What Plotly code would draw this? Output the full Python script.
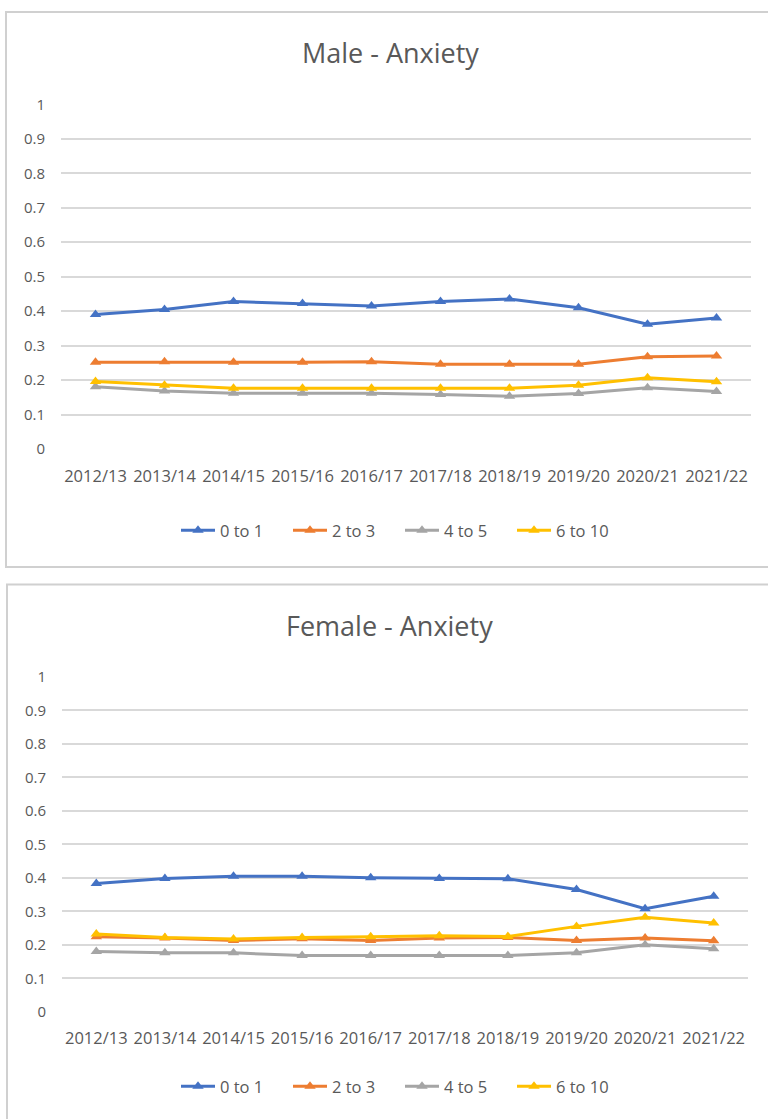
import plotly.graph_objects as go

years = ["2012/13", "2013/14", "2014/15", "2015/16", "2016/17",
         "2017/18", "2018/19", "2019/20", "2020/21", "2021/22"]
series_names = ["0 to 1", "2 to 3", "4 to 5", "6 to 10"]
colors = ["#4472C4", "#ED7D31", "#A5A5A5", "#FFC000"]

male_0_1 = [0.390, 0.405, 0.428, 0.422, 0.415, 0.428, 0.435, 0.410, 0.362, 0.380]
male_2_3 = [0.252, 0.253, 0.252, 0.252, 0.253, 0.246, 0.246, 0.246, 0.268, 0.270]
male_4_5 = [0.181, 0.168, 0.162, 0.162, 0.162, 0.158, 0.153, 0.161, 0.178, 0.167]
male_6_10 = [0.196, 0.185, 0.176, 0.176, 0.176, 0.176, 0.176, 0.185, 0.207, 0.195]

female_0_1 = [0.383, 0.398, 0.405, 0.405, 0.400, 0.398, 0.397, 0.365, 0.308, 0.345]
female_2_3 = [0.224, 0.220, 0.213, 0.218, 0.213, 0.220, 0.222, 0.213, 0.220, 0.212]
female_4_5 = [0.180, 0.176, 0.176, 0.168, 0.168, 0.168, 0.168, 0.176, 0.200, 0.188]
female_6_10 = [0.232, 0.222, 0.217, 0.222, 0.224, 0.227, 0.225, 0.255, 0.282, 0.265]

male = [male_0_1, male_2_3, male_4_5, male_6_10]
female = [female_0_1, female_2_3, female_4_5, female_6_10]

y_ticks = [0, 0.1, 0.2, 0.3, 0.4, 0.5, 0.6, 0.7, 0.8, 0.9, 1]
y_tick_text = ["0", "0.1", "0.2", "0.3", "0.4", "0.5", "0.6", "0.7", "0.8", "0.9", "1"]

W, H = 768, 1119
FONT = "Open Sans"
TXT = "#595959"
GRID = "#D9D9D9"

fig = go.Figure()

for i, name in enumerate(series_names):
    fig.add_trace(go.Scatter(
        x=years, y=male[i], name=name, mode="lines+markers",
        line=dict(color=colors[i], width=3),
        marker=dict(symbol="triangle-up", size=10, color=colors[i]),
        xaxis="x", yaxis="y", legend="legend"))
for i, name in enumerate(series_names):
    fig.add_trace(go.Scatter(
        x=years, y=female[i], name=name, mode="lines+markers",
        line=dict(color=colors[i], width=3),
        marker=dict(symbol="triangle-up", size=10, color=colors[i]),
        xaxis="x2", yaxis="y2", legend="legend2"))

def py(px):
    return 1 - px / H

xcommon = dict(type="category", categoryorder="array", categoryarray=years,
               range=[-0.5, 9.5], showgrid=False, showline=False, zeroline=False,
               ticks="", tickangle=0, tickfont=dict(family=FONT, size=16.5, color=TXT),
               ticklabelstandoff=15)
ycommon = dict(range=[0, 1.0], tickvals=y_ticks, ticktext=y_tick_text,
               showgrid=True, gridcolor=GRID, gridwidth=1.5, zeroline=False,
               showline=False, ticks="",
               tickfont=dict(family=FONT, size=15, color=TXT),
               ticklabelstandoff=15)

legend_common = dict(orientation="h", xanchor="left", yanchor="middle",
                     font=dict(family=FONT, size=16.5, color=TXT), itemwidth=34,
                     entrywidth=63, entrywidthmode="pixels",
                     bgcolor="rgba(0,0,0,0)")

fig.update_layout(
    width=W, height=H,
    margin=dict(l=0, r=0, t=0, b=0),
    paper_bgcolor="white", plot_bgcolor="white",
    xaxis=dict(domain=[61 / W, 751 / W], anchor="y", **xcommon),
    yaxis=dict(domain=[py(446), py(95)], anchor="x", **ycommon),
    xaxis2=dict(domain=[62 / W, 748 / W], anchor="y2", **xcommon),
    yaxis2=dict(domain=[py(1019), py(678)], anchor="x2", **ycommon),
    legend=dict(x=176 / W, y=py(529), **legend_common),
    legend2=dict(x=176 / W, y=py(1095), **legend_common),
    showlegend=True,
    annotations=[
        dict(text="Male - Anxiety", x=390 / W, y=py(42), xref="paper", yref="paper",
             showarrow=False, font=dict(family=FONT, size=27, color=TXT),
             xanchor="center", yanchor="middle"),
        dict(text="Female - Anxiety", x=389 / W, y=py(626), xref="paper", yref="paper",
             showarrow=False, font=dict(family=FONT, size=27, color=TXT),
             xanchor="center", yanchor="middle"),
    ],
    shapes=[
        dict(type="rect", xref="paper", yref="paper", x0=6 / W, x1=772 / W,
             y0=py(566), y1=py(1), line=dict(color="#D0D0D0", width=2)),
        dict(type="rect", xref="paper", yref="paper", x0=7 / W, x1=772 / W,
             y0=py(1140), y1=py(584), line=dict(color="#D0D0D0", width=2)),
    ],
)

fig.write_html("out.html", config={"displayModeBar": False},
               post_script="document.body.style.margin='0';document.body.style.overflow='hidden';")
